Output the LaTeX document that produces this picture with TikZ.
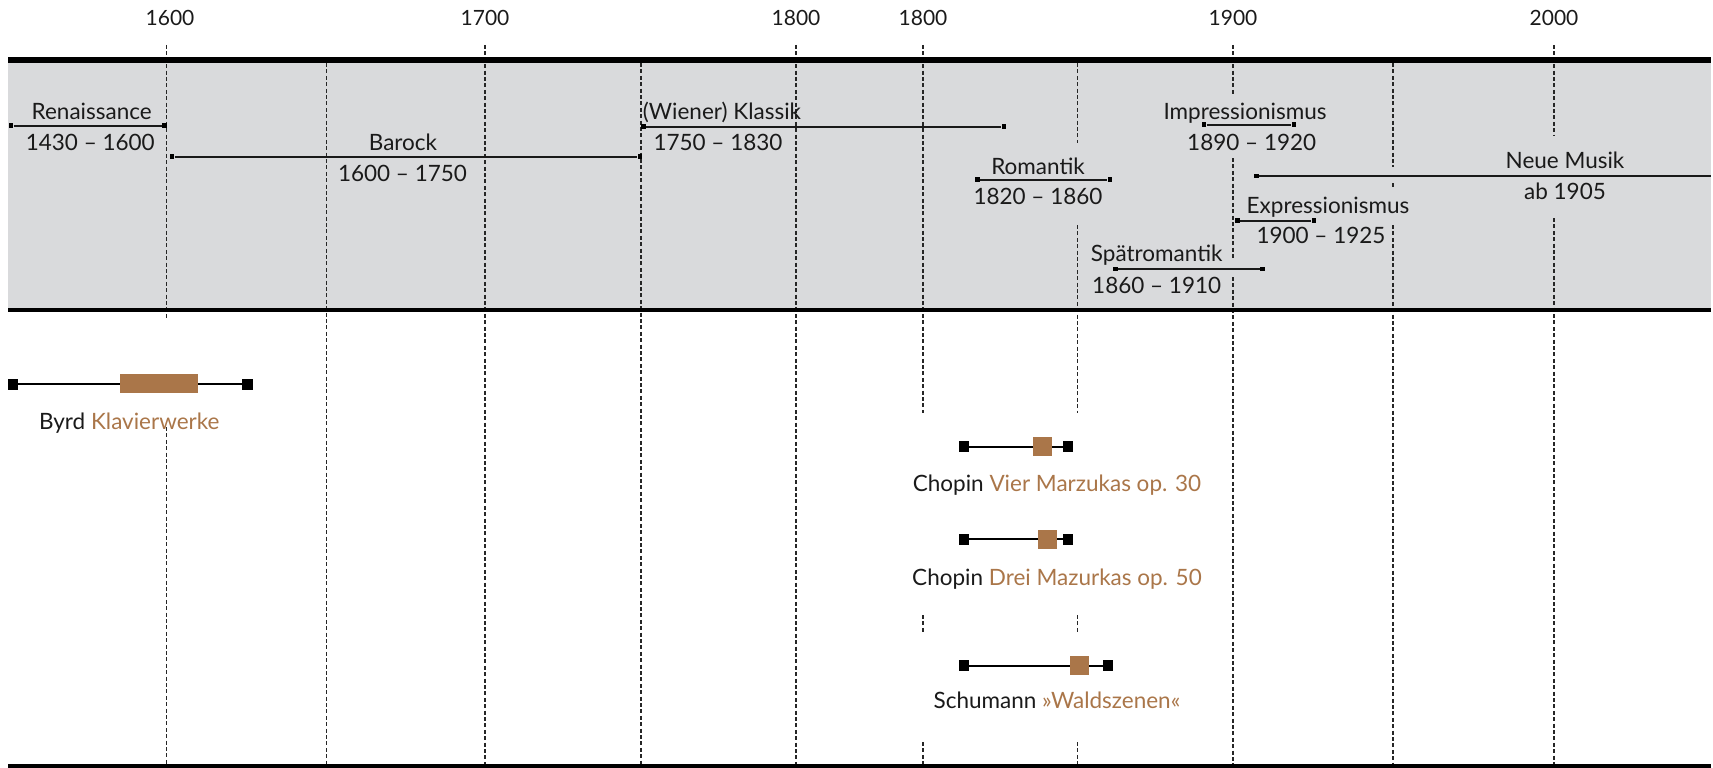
\documentclass[tikz,border=0pt]{standalone}
\usepackage{fontspec}
\setmainfont{Lato}
\usetikzlibrary{positioning}

\definecolor{bandgray}{RGB}{217,218,220}
\definecolor{workbrown}{RGB}{170,118,73}
\definecolor{ink}{RGB}{26,26,26}

\tikzset{
  gridline/.style={black!85, line width=1.2pt, dash pattern=on 4pt off 2.4pt},
  epoch/.style={black!90, line width=1.7pt},
  epochend/.style={rectangle, fill=black, inner sep=0pt, minimum size=4.8pt},
  workline/.style={black, line width=2.2pt},
  workend/.style={rectangle, fill=black, inner sep=0pt, minimum size=10.5pt},
  workcore/.style={rectangle, fill=workbrown, inner sep=0pt, minimum size=19pt},
  lbl/.style={anchor=base, inner sep=0pt, text=ink, font=\fontsize{22.5}{27}\selectfont},
  yearlbl/.style={anchor=base, inner sep=0pt, text=ink, font=\fontsize{21}{25}\selectfont}
}

\begin{document}
\begin{tikzpicture}[x=1pt, y=-1pt]
  \useasboundingbox (0,0) rectangle (1713,768);

  % epoch band
  \fill[bandgray] (8.3,63) rectangle (1711,308);

  % dashed year lines
  \foreach \x in {485,796} \draw[gridline] (\x,45) -- (\x,766);
  \foreach \x in {326.3,641} \draw[gridline] (\x,63) -- (\x,766);
  \draw[gridline] (166.7,45) -- (166.7,318);
  \draw[gridline] (166.7,427) -- (166.7,766);
  \draw[gridline] (923,45) -- (923,413);
  \draw[gridline] (923,615) -- (923,632);
  \draw[gridline] (923,742) -- (923,766);
  \draw[gridline] (1077.3,63) -- (1077.3,143);
  \draw[gridline] (1077.3,225) -- (1077.3,413);
  \draw[gridline] (1077.3,615) -- (1077.3,632);
  \draw[gridline] (1077.3,742) -- (1077.3,766);
  \draw[gridline] (1233,45) -- (1233,95);
  \draw[gridline] (1233,158) -- (1233,260);
  \draw[gridline] (1233,277) -- (1233,766);
  \draw[gridline] (1393,63) -- (1393,167);
  \draw[gridline] (1393,183) -- (1393,188);
  \draw[gridline] (1393,225) -- (1393,766);
  \draw[gridline] (1554,45) -- (1554,135);
  \draw[gridline] (1554,218) -- (1554,766);

  % rules
  \fill[black] (8.3,56.7) rectangle (1711,63.3);
  \fill[black] (8.3,308) rectangle (1711,312);
  \fill[black] (8.3,764) rectangle (1711,768);

  % years
  \node[yearlbl] (y1600) at (170,26) {1600};
  \node[yearlbl] (y1700) at (485,26) {1700};
  \node[yearlbl] (y1800a) at (796,26) {1800};
  \node[yearlbl] (y1800b) at (923,26) {1800};
  \node[yearlbl] (y1900) at (1233,26) {1900};
  \node[yearlbl] (y2000) at (1554,26) {2000};

  % epochs
  \node[epochend] (ren-l) at (11,125.7) {};
  \node[epochend] (ren-r) at (164.3,125.7) {};
  \draw[epoch] (ren-l) -- (ren-r);
  \node[lbl] (ren) at (91.7,119.5) {Renaissance};
  \node[lbl] (ren-d) at (90.3,150) {1430 – 1600};

  \node[epochend] (bar-l) at (172,156.7) {};
  \node[epochend] (bar-r) at (640,156.7) {};
  \draw[epoch] (bar-l) -- (bar-r);
  \node[lbl] (bar) at (403,150) {Barock};
  \node[lbl] (bar-d) at (402.5,181) {1600 – 1750};

  \node[epochend] (kla-l) at (643.7,126.7) {};
  \node[epochend] (kla-r) at (1004,126.7) {};
  \draw[epoch] (kla-l) -- (kla-r);
  \node[lbl] (kla) at (722,119.3) {(Wiener) Klassik};
  \node[lbl] (kla-d) at (718,150) {1750 – 1830};

  \node[epochend] (rom-l) at (977.8,179.7) {};
  \node[epochend] (rom-r) at (1110,179.7) {};
  \draw[epoch] (rom-l) -- (rom-r);
  \node[lbl] (rom) at (1038,174) {Romantik};
  \node[lbl] (rom-d) at (1038,204) {1820 – 1860};

  \node[epochend] (imp-l) at (1204,124.7) {};
  \node[epochend] (imp-r) at (1294,124.7) {};
  \draw[epoch] (imp-l) -- (imp-r);
  \node[lbl] (imp) at (1245,119) {Impressionismus};
  \node[lbl] (imp-d) at (1251.7,150) {1890 – 1920};

  \node[epochend] (spr-l) at (1115.7,269) {};
  \node[epochend] (spr-r) at (1262.7,269) {};
  \draw[epoch] (spr-l) -- (spr-r);
  \node[lbl] (spr) at (1156.7,261.5) {Spätromantik};
  \node[lbl] (spr-d) at (1156.7,293) {1860 – 1910};

  \node[epochend] (exp-l) at (1237.7,220.7) {};
  \node[epochend] (exp-r) at (1314,220.7) {};
  \draw[epoch] (exp-l) -- (exp-r);
  \node[lbl] (exp) at (1328,213) {Expressionismus};
  \node[lbl] (exp-d) at (1321,243) {1900 – 1925};

  \node[epochend] (neu-l) at (1256.7,176) {};
  \coordinate (neu-r) at (1711,176);
  \draw[epoch] (neu-l) -- (neu-r);
  \node[lbl] (neu) at (1565,168) {Neue Musik};
  \node[lbl] (neu-d) at (1565,199) {ab 1905};

  % works
  \node[workend] (byrd-l) at (12.8,384.3) {};
  \node[workend] (byrd-r) at (247.3,384.3) {};
  \draw[workline] (byrd-l) -- (byrd-r);
  \node[workcore, minimum width=78pt, minimum height=18.7pt] (byrd-c) at (159,383.4) {};
  \node[lbl] (byrd) at (129.3,429.3) {Byrd \textcolor{workbrown}{Klavierwerke}};

  \node[workend] (cho1-l) at (964,446.7) {};
  \node[workend] (cho1-r) at (1068,446.7) {};
  \draw[workline] (cho1-l) -- (cho1-r);
  \node[workcore] (cho1-c) at (1042.5,446.2) {};
  \node[lbl] (cho1) at (1057,491.7) {Chopin \textcolor{workbrown}{Vier Marzukas op. 30}};

  \node[workend] (cho2-l) at (964,539.3) {};
  \node[workend] (cho2-r) at (1068,539.3) {};
  \draw[workline] (cho2-l) -- (cho2-r);
  \node[workcore] (cho2-c) at (1047.5,539.5) {};
  \node[lbl] (cho2) at (1057,585) {Chopin \textcolor{workbrown}{Drei Mazurkas op. 50}};

  \node[workend] (sch-l) at (964,665.7) {};
  \node[workend] (sch-r) at (1108,665.7) {};
  \draw[workline] (sch-l) -- (sch-r);
  \node[workcore] (sch-c) at (1079.5,665.5) {};
  \node[lbl] (sch) at (1057,708.3) {Schumann \textcolor{workbrown}{»Waldszenen«}};
\end{tikzpicture}
\end{document}
